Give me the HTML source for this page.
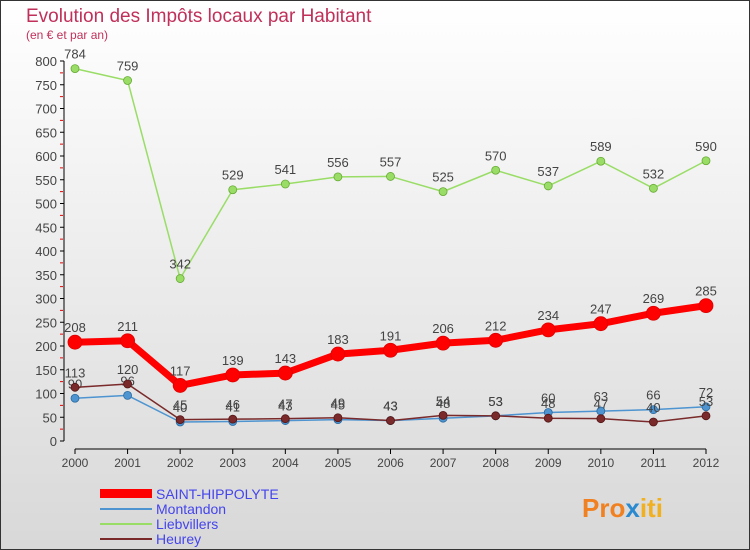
<!DOCTYPE html>
<html><head><meta charset="utf-8"><style>
html,body{margin:0;padding:0}
body{width:750px;height:550px;overflow:hidden;font-family:"Liberation Sans",sans-serif}
#wrap{position:absolute;left:0;top:0;width:748px;height:548px;border:1px solid #333;background:linear-gradient(#ffffff,#d8d8d8)}
</style></head><body>
<div id="wrap">
<svg id="svg" width="750" height="550" style="position:absolute;left:-1px;top:-1px">
<text x="26" y="22" font-size="19" fill="#c0305a">Evolution des Impôts locaux par Habitant</text>
<text x="26" y="39" font-size="12" fill="#c0305a">(en € et par an)</text>
<g id="axes"></g><g id="series"></g>
<g>
<rect x="100" y="489" width="52" height="9" fill="#ff0000"/>
<text x="156" y="499" font-size="14" fill="#4444ee">SAINT-HIPPOLYTE</text>
<rect x="100" y="508" width="52" height="2" fill="#4d94d0"/>
<text x="156" y="514" font-size="14" fill="#4444ee">Montandon</text>
<rect x="100" y="523" width="52" height="2" fill="#99dd66"/>
<text x="156" y="529" font-size="14" fill="#4444ee">Liebvillers</text>
<rect x="100" y="538" width="52" height="2" fill="#7a2a2a"/>
<text x="156" y="544" font-size="14" fill="#4444ee">Heurey</text>
</g>
<text x="582" y="517" font-size="26" font-weight="bold" fill="#f08020">Pro<tspan fill="#2a8ad0">x</tspan><tspan fill="#f0b020">iti</tspan></text>
</svg></div>
<script>
const years=[2000,2001,2002,2003,2004,2005,2006,2007,2008,2009,2010,2011,2012];
const saint=[208,211,117,139,143,183,191,206,212,234,247,269,285];
const montandon=[90,96,40,41,43,45,43,48,53,60,63,66,72];
const liebvillers=[784,759,342,529,541,556,557,525,570,537,589,532,590];
const heurey=[113,120,45,46,47,49,43,54,53,48,47,40,53];
const yTicks=[0,50,100,150,200,250,300,350,400,450,500,550,600,650,700,750,800];
const NS="http://www.w3.org/2000/svg";
const X=i=>75+i*(706-75)/(years.length-1);
const Y=v=>441-v*(441-61)/800;
function mk(t,a,p){const e=document.createElementNS(NS,t);for(const k in a)e.setAttribute(k,a[k]);p.appendChild(e);return e;}
const ax=document.getElementById('axes');
let l=mk('line',{x1:64,y1:Y(0),x2:64,y2:Y(800),stroke:'#000'},ax);


l=mk('line',{x1:75,y1:449,x2:706,y2:449,stroke:'#000'},ax);


yTicks.forEach(v=>{
 mk('line',{x1:60,y1:Y(v),x2:64,y2:Y(v),stroke:'#000'},ax);
 if(v<800)mk('line',{x1:60,y1:Y(v+25),x2:63,y2:Y(v+25),stroke:'#e00'},ax);
 const t=mk('text',{x:57,y:Y(v)+5,'font-size':13,fill:'#444','text-anchor':'end'},ax);t.textContent=v;
 
 
});
years.forEach((y,i)=>{
 mk('line',{x1:X(i),y1:449,x2:X(i),y2:454,stroke:'#000'},ax);
 const t=mk('text',{x:X(i),y:467,'font-size':12,fill:'#444','text-anchor':'middle'},ax);t.textContent=y;
 
 
});
const sg=document.getElementById('series');
function series(name,data,color,w,r,fs,lc){
 const g=mk('g',{},sg);
 
 
 mk('polyline',{points:data.map((v,i)=>X(i)+','+Y(v)).join(' '),fill:'none',stroke:color,'stroke-width':w,'stroke-linejoin':'round'},g);
 data.forEach((v,i)=>{
  const c=mk('circle',{cx:X(i),cy:Y(v),r:r,fill:color,stroke:lc,'stroke-width':0.8},g);
  
  
  const t=mk('text',{x:X(i),y:Y(v)-10,'font-size':fs,fill:'#444','text-anchor':'middle'},g);t.textContent=v;
  
  
 });
}
series('liebvillers',liebvillers,'#99dd66',1.5,4,13,'#66aa33');
series('montandon',montandon,'#4d94d0',1.5,4,13,'#2a6aa0');
series('heurey',heurey,'#7a2a2a',1.5,4,13,'#551515');
series('saint-hippolyte',saint,'#ff0000',7,7,13,'#dd0000');
</script>
</body></html>
